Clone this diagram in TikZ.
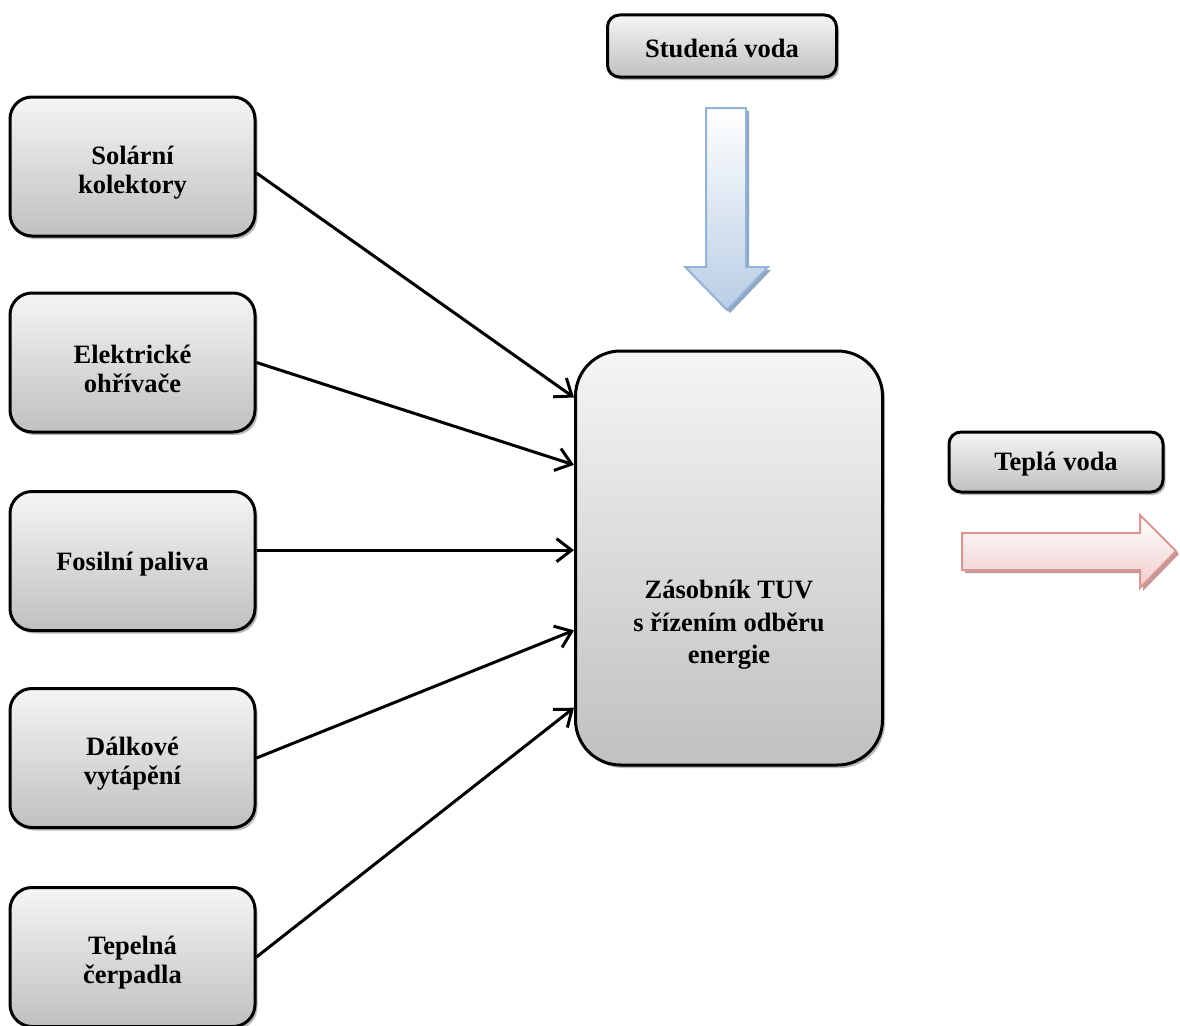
\documentclass[tikz,border=0pt]{standalone}
\usepackage{fontspec}
\setmainfont{Liberation Serif}
\usetikzlibrary{arrows.meta,shadows}
\definecolor{boxtop}{HTML}{F5F5F5}
\definecolor{boxbot}{HTML}{C0C0C0}
\definecolor{blueedge}{HTML}{95B3D7}
\definecolor{bluebot}{HTML}{B9CDE5}
\definecolor{blueshadow}{HTML}{8FA6C2}
\definecolor{rededge}{HTML}{D99694}
\definecolor{redbot}{HTML}{EFCDCC}
\definecolor{redshadow}{HTML}{C49897}
\begin{document}
\begin{tikzpicture}[x=1pt,y=-1pt,
  box/.style={draw=black, line width=3pt, rounded corners=22pt,
    top color=boxtop, bottom color=boxbot, inner sep=0pt,
    drop shadow={shadow xshift=2.5pt, shadow yshift=-3pt, fill=black!50, opacity=0.55}},
  srcbox/.style={box, minimum width=245pt, minimum height=139pt},
  lbl/.style={align=center, inner sep=0pt, font=\fontsize{26.5}{29}\selectfont\bfseries},
  conn/.style={line width=3pt, -{Straight Barb[length=15pt,width=23pt,line width=3pt]}}
]
\useasboundingbox (0,0) rectangle (1180,1025);
\clip (0,0) rectangle (1180,1025);

% source boxes
\node[srcbox] (sol) at (132.5,166.5) {};
\node[srcbox] (ele) at (132.5,362.5) {};
\node[srcbox] (fos) at (132.5,561) {};
\node[srcbox] (dal) at (132.5,758) {};
\node[srcbox] (tep) at (132.5,957) {};
\node[lbl] (solt) at ([yshift=-6pt]sol.center) {Solární\\kolektory};
\node[lbl] (elet) at ([yshift=-6pt]ele.center) {Elektrické\\ohřívače};
\node[lbl] (fost) at ([yshift=-3pt]fos.center) {Fosilní paliva};
\node[lbl] (dalt) at ([yshift=-6pt]dal.center) {Dálkové\\vytápění};
\node[lbl] (tept) at ([yshift=-6pt]tep.center) {Tepelná\\čerpadla};

% tank
\node[box, rounded corners=45pt, minimum width=307pt, minimum height=414pt] (tank) at (729,558) {};
\node[lbl, font=\fontsize{26.5}{32.5}\selectfont\bfseries] (tanktxt) at (729,625) {Zásobník TUV\\s řízením odběru\\energie};

% water boxes
\node[box, rounded corners=12pt, minimum width=229pt, minimum height=62pt] (cold) at (722,46) {};
\node[lbl] (coldt) at ([yshift=-2pt]cold.center) {Studená voda};
\node[box, rounded corners=12pt, minimum width=214pt, minimum height=60pt] (hot) at (1056,462) {};
\node[lbl] (hott) at ([yshift=-2pt]hot.center) {Teplá voda};

% connectors
\draw[conn] (sol.-3) -- (tank.134.6);
\draw[conn] (ele.0) -- (tank.149.4);
\draw[conn] (fos.5.6) -- (fos.5.6 -| tank.west);
\draw[conn] (dal.0) -- (tank.205.1);
\draw[conn] (tep.0) -- (tank.224.6);

% cold water block arrow
\fill[blueshadow, shift={(3,3)}] (706,108) -- (746,108) -- (746,267) -- (768,267) -- (727,310) -- (685,267) -- (706,267) -- cycle;
\draw[blueedge, line width=2pt, top color=white, bottom color=bluebot] (706,108) -- (746,108) -- (746,267) -- (768,267) -- (727,310) -- (685,267) -- (706,267) -- cycle;

% hot water block arrow
\fill[redshadow, shift={(3,3)}] (962,533) -- (1140,533) -- (1140,515) -- (1176,551) -- (1140,588) -- (1140,570) -- (962,570) -- cycle;
\draw[rededge, line width=2pt, top color=white, bottom color=redbot] (962,533) -- (1140,533) -- (1140,515) -- (1176,551) -- (1140,588) -- (1140,570) -- (962,570) -- cycle;
\end{tikzpicture}
\end{document}
